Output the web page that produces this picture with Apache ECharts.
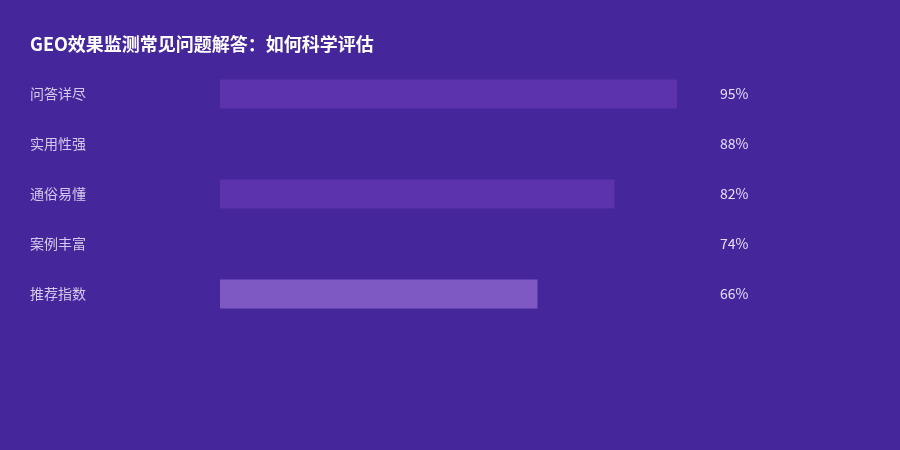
<!DOCTYPE html>
<html><head><meta charset="utf-8">
<script src="https://cdn.jsdelivr.net/npm/echarts@6/dist/echarts.min.js"></script>
<style>html,body{margin:0;padding:0;background:#45279b;}#c{width:900px;height:450px;}</style>
</head><body><div id="c"></div>
<script>
const titleText = 'GEO效果监测常见问题解答：如何科学评估';
const categories = ['问答详尽', '实用性强', '通俗易懂', '案例丰富', '推荐指数'];
const values = [95, 88, 82, 74, 66];
const barColors = ['#5d33ad', '#45279b', '#5d33ad', '#45279b', '#7f59c3'];

const chart = echarts.init(document.getElementById('c'), null, {renderer: 'canvas'});
const font = '"Noto Sans CJK SC", "Noto Sans", sans-serif';
chart.setOption({
  backgroundColor: '#45279b',
  animation: false,
  title: {
    text: titleText, left: 25, top: 30,
    textStyle: {color: '#ffffff', fontSize: 18, fontWeight: 'bold', fontFamily: font}
  },
  grid: {left: 220, right: 199, top: 69, height: 250},
  xAxis: {type: 'value', min: 0, max: 100, show: false},
  yAxis: [{
    type: 'category', inverse: true, data: categories,
    axisLine: {show: false}, axisTick: {show: false}, splitLine: {show: false},
    axisLabel: {align: 'left', margin: 190, color: '#d4c8ee', fontSize: 14, fontFamily: font}
  }, {
    type: 'category', inverse: true, position: 'right', data: values.map(v => v + '%'),
    axisLine: {show: false}, axisTick: {show: false}, splitLine: {show: false},
    axisLabel: {align: 'left', margin: 19, color: '#e6def7', fontSize: 14, fontFamily: font}
  }],
  series: [{
    type: 'bar', data: values.map((v, i) => ({value: v, itemStyle: {color: barColors[i]}})),
    barWidth: 29, yAxisIndex: 0
  }]
});
</script></body></html>
